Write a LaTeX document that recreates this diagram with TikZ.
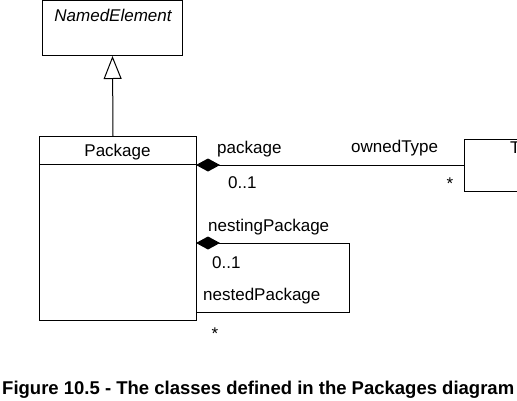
\documentclass[tikz,border=0pt]{standalone}
\usepackage{fontspec}
\setmainfont{Liberation Sans}
\usetikzlibrary{arrows.meta}
\tikzset{
  lbl/.style={inner sep=0pt, font=\fontsize{17}{20}\selectfont, anchor=base west},
  cls/.style={draw, line width=1pt, inner sep=0pt},
  conn/.style={line width=1pt},
  comp/.style={conn, {Diamond[length=24pt,width=13pt,fill=black]}-},
  gen/.style={conn, -{Triangle[open,length=23pt,width=18pt,line width=1pt]}}
}
\begin{document}
\begin{tikzpicture}[x=1pt,y=-1pt]
\useasboundingbox (0,0) rectangle (517,400);
\clip (0,0) rectangle (517,400);
% classes
\node[cls, anchor=north west, minimum width=140pt, minimum height=55pt] (ne) at (42,0) {};
\node[lbl, anchor=base, font=\fontsize{17}{20}\selectfont\itshape] (netext) at (113,21) {NamedElement};
\node[cls, anchor=north west, minimum width=157pt, minimum height=184pt] (pkg) at (39,136) {};
\node[lbl, anchor=base] (pkgtext) at (117.5,156) {Package};
\draw[conn] (39,164) -- (196,164);
\node[cls, anchor=north west, minimum width=100pt, minimum height=52pt] (type) at (464,139) {};
\node[lbl] (typetext) at (510,153) {Type};
% generalization
\draw[gen] (pkg.north -| netext) -- (ne.south);
% association package - ownedType
\coordinate (a1) at (196,165);
\draw[comp] (a1) -- (a1 -| type.west);
\node[lbl] (l1) at (217,153) {package};
\node[lbl] (l2) at (351,152) {ownedType};
\node[lbl] (l3) at (228,188) {0..1};
\node[lbl, anchor=center] (l4) at (450,184) {*};
% nesting association (self loop)
\coordinate (b1) at (196,243);
\coordinate (b2) at (349,243);
\coordinate (b3) at (349,312);
\coordinate (b4) at (196,312);
\draw[comp] (b1) -- (b2) -- (b3) -- (b4);
\node[lbl] (m1) at (208,231) {nestingPackage};
\node[lbl] (m2) at (212,268) {0..1};
\node[lbl] (m3) at (203,300) {nestedPackage};
\node[lbl, anchor=center] (m4) at (215,334) {*};
% caption
\node[inner sep=0pt, anchor=base west, font=\fontsize{18.5}{22}\selectfont\bfseries] (cap) at (2,394) {Figure 10.5 - The classes defined in the Packages diagram};
\end{tikzpicture}
\end{document}
